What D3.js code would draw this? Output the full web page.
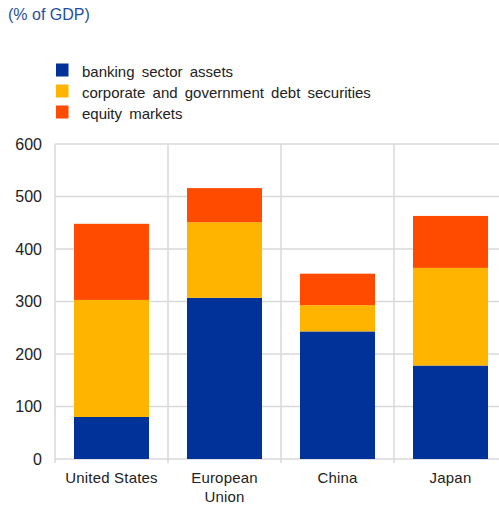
<!DOCTYPE html>
<html>
<head>
<meta charset="utf-8">
<script src="https://cdn.jsdelivr.net/npm/d3@7"></script>
<style>
  html, body { margin: 0; padding: 0; background: #fff; }
  svg { display: block; font-family: "Liberation Sans", Arial, sans-serif; }
</style>
</head>
<body>
<svg id="chart" width="499" height="506"></svg>
<script>
// Financial structure by economy, % of GDP
const categories = [["United States"], ["European", "Union"], ["China"], ["Japan"]];
const seriesNames = ["banking sector assets", "corporate and government debt securities", "equity markets"];
const banking = [80, 307, 243, 178];
const debt = [223, 144, 50, 186];
const equity = [145, 65, 60, 99];
const yTicks = [0, 100, 200, 300, 400, 500, 600];
const colors = ["#003299", "#FFB400", "#FF4B00"];

const svg = d3.select("#chart");
const margin = { left: 55, top: 144, right: 507, bottom: 459 };

const rows = categories.map((c, i) => ({
  key: c.join(" "), lines: c,
  banking: banking[i], debt: debt[i], equity: equity[i]
}));
const keys = ["banking", "debt", "equity"];
const stacked = d3.stack().keys(keys)(rows);

const x = d3.scaleBand().domain(rows.map(d => d.key))
  .range([margin.left, margin.right]).paddingInner(0).paddingOuter(0);
const y = d3.scaleLinear().domain([0, 600]).range([margin.bottom, margin.top]);
const barW = 75;

// gridlines
const grid = svg.append("g").attr("stroke", "#d9d9d9").attr("stroke-width", 1.5);
yTicks.forEach(t => {
  grid.append("line").attr("x1", margin.left).attr("x2", margin.right)
    .attr("y1", y(t)).attr("y2", y(t));
});
x.domain().forEach(k => {
  grid.append("line").attr("x1", x(k)).attr("x2", x(k))
    .attr("y1", margin.top).attr("y2", margin.bottom + 4);
});
grid.append("line").attr("x1", margin.right).attr("x2", margin.right)
  .attr("y1", margin.top).attr("y2", margin.bottom + 4);

// stacked bars
stacked.forEach((layer, li) => {
  svg.append("g").attr("fill", colors[li])
    .selectAll("rect").data(layer).join("rect")
    .attr("x", d => x(d.data.key) + (x.bandwidth() - barW) / 2)
    .attr("width", barW)
    .attr("y", d => y(d[1]))
    .attr("height", d => y(d[0]) - y(d[1]));
});

// y axis labels
const yAxis = d3.axisLeft(y).tickValues(yTicks).tickSize(0).tickPadding(13);
const ya = svg.append("g").attr("transform", `translate(${margin.left},0)`).call(yAxis);
ya.select(".domain").remove();
ya.selectAll("text").attr("font-size", 16).attr("fill", "#222")
  .attr("font-family", "Liberation Sans, Arial, sans-serif");

// category labels
const xl = svg.append("g").attr("font-size", 15).attr("fill", "#222")
  .attr("text-anchor", "middle").attr("letter-spacing", 0.2);
rows.forEach(r => {
  const cx = x(r.key) + x.bandwidth() / 2;
  const t = xl.append("text").attr("x", cx).attr("y", 483);
  r.lines.forEach((ln, i) => {
    t.append("tspan").attr("x", cx).attr("dy", i === 0 ? 0 : 18.5).text(ln);
  });
});

// title
svg.append("text").attr("x", 8).attr("y", 20).attr("font-size", 16)
  .attr("fill", "#1f4ea3").text("(% of GDP)");

// legend
const lg = svg.append("g");
seriesNames.forEach((n, i) => {
  const yy = 63.5 + i * 21;
  lg.append("rect").attr("x", 56).attr("y", yy).attr("width", 12.5).attr("height", 13).attr("fill", colors[i]);
  lg.append("text").attr("x", 82).attr("y", yy + 13.5).attr("font-size", 15)
    .attr("fill", "#222").attr("word-spacing", 3).text(n);
});
</script>
</body>
</html>
